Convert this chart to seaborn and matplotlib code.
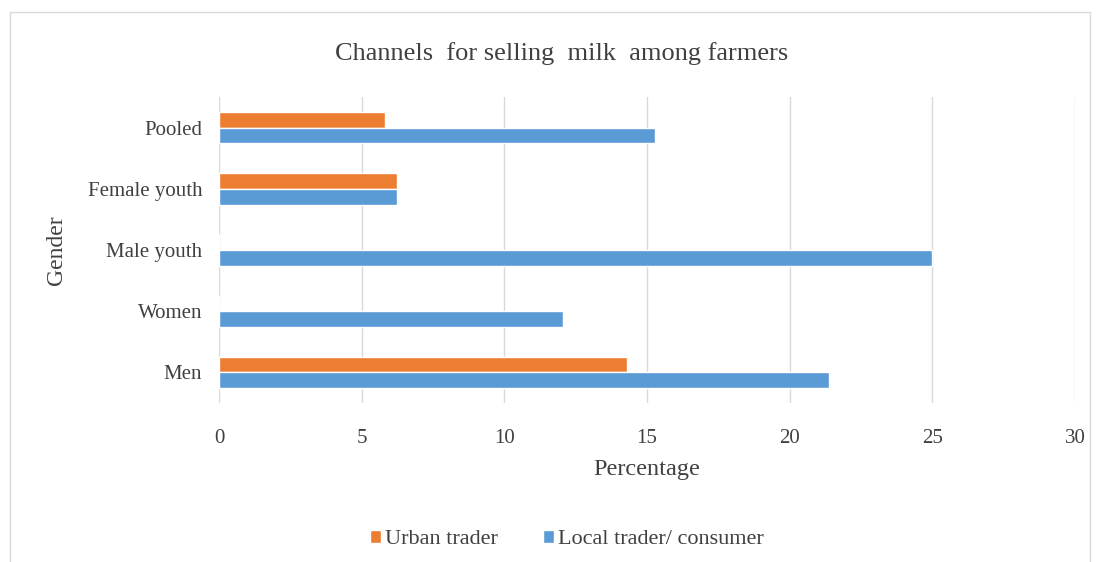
import pandas as pd
import seaborn as sns
import matplotlib.pyplot as plt
from matplotlib.patches import Rectangle, Patch

# values
groups = ["Pooled", "Female youth", "Male youth", "Women", "Men"]
urban_trader = [5.83, 6.25, 0.0, 0.0, 14.29]
local_trader = [15.27, 6.25, 25.0, 12.05, 21.37]
series = ["Urban trader", "Local trader/ consumer"]
x_ticks = [0, 5, 10, 15, 20, 25, 30]

df = pd.DataFrame({
    "Gender": groups * 2,
    "Percentage": urban_trader + local_trader,
    "Channel": [series[0]] * len(groups) + [series[1]] * len(groups),
})

sns.set_theme(style="white")
plt.rcParams["font.family"] = ["Liberation Serif", "DejaVu Serif"]

colors = {"Urban trader": "#ED7D31", "Local trader/ consumer": "#5B9BD5"}
text_col = "#404040"

fig = plt.figure(figsize=(11.01, 5.62), dpi=100)
ax = fig.add_axes([0.1989, 0.283, 0.7775, 0.5444])

sns.barplot(data=df, y="Gender", x="Percentage", hue="Channel", order=groups,
            hue_order=series, palette=colors, orient="h", width=0.515,
            saturation=1, ax=ax, legend=False)

ax.set_xlim(0, 30)
ax.set_ylim(4.5, -0.5)
ax.set_xticks(x_ticks)
ax.xaxis.grid(True, color="#D9D9D9", linewidth=1)
ax.set_axisbelow(True)
for s in ax.spines.values():
    s.set_visible(False)
ax.tick_params(axis="both", length=0, labelsize=15, labelcolor=text_col)
ax.tick_params(axis="x", pad=19)
ax.tick_params(axis="y", pad=12)
ax.set_xlabel("Percentage", fontsize=17.5, color=text_col, labelpad=8)
ax.set_ylabel("Gender", fontsize=17, color=text_col, labelpad=15)

fig.text(0.51, 0.905, "Channels  for selling  milk  among farmers", ha="center",
         va="center", fontsize=19, color=text_col)

handles = [Patch(facecolor=colors[s], label=s) for s in series]
fig.legend(handles=handles, loc="center", bbox_to_anchor=(0.515, 0.04), ncol=2,
           frameon=False, fontsize=16, handlelength=0.5, handleheight=0.5,
           handletextpad=0.2, columnspacing=2.0, labelcolor=text_col)

# outer chart frame
fig.patches.append(Rectangle((10 / 1101, -0.1), 1080 / 1101, 1.1 - 12 / 562,
                             transform=fig.transFigure, fill=False,
                             edgecolor="#D9D9D9", linewidth=1))

fig.savefig("out.png", dpi=100)
